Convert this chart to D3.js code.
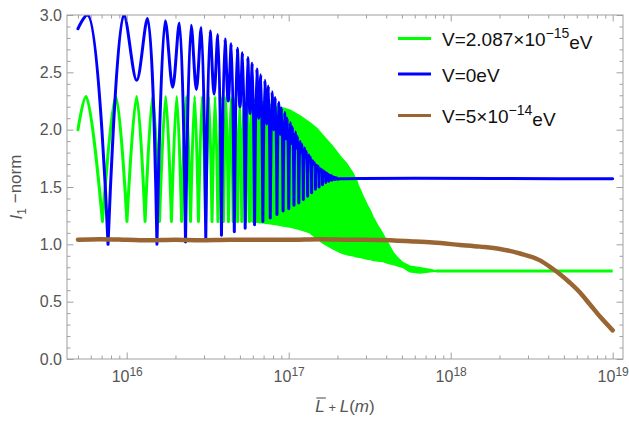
<!DOCTYPE html>
<html>
<head>
<meta charset="utf-8">
<script src="https://cdn.jsdelivr.net/npm/d3@7"></script>
<style>
  body { margin: 0; background: #fff; }
  svg { display: block; font-family: "Liberation Sans", Arial, sans-serif; }
</style>
</head>
<body>
<svg id="chart" width="629" height="421"></svg>
<script>
// Distances (L̄+L) are given in units of 1e16 m; values are the I1-norm.
const UNIT = 1e16;

// V = 0 eV : deep minima of the oscillation
const blueTroughL = [0.767, 1.537, 2.307, 3.077, 3.847, 4.617, 5.387, 6.157, 6.927, 7.697,
  8.467, 9.237, 10.007, 10.777, 11.547, 12.317, 13.087, 13.857, 14.627, 15.397,
  16.167, 16.937, 17.707, 18.477, 19.247, 20.017];
const blueTroughV = [1.00, 1.00, 1.02, 1.05, 1.08, 1.11, 1.14, 1.17, 1.20, 1.23,
  1.26, 1.29, 1.31, 1.34, 1.36, 1.39, 1.42, 1.45, 1.48, 1.50,
  1.52, 1.54, 1.55, 1.56, 1.565, 1.568];
// V = 0 eV : maxima and shallow minima between the deep minima, then the plateau
const blueCrestL = [0.5, 0.5745,
  0.9595, 1.152, 1.3445,  1.7295, 1.922, 2.1145,  2.4995, 2.692, 2.8845,
  3.2695, 3.462, 3.6545,  4.0395, 4.232, 4.4245,  4.8095, 5.002, 5.1945,
  5.5795, 5.772, 5.9645,  6.3495, 6.542, 6.7345,  7.1195, 7.312, 7.5045,
  7.8895, 8.082, 8.2745,  8.66, 8.852, 9.045,  9.43, 9.622, 9.815,
  10.2, 10.392, 10.585,  10.97, 11.162, 11.355,  11.74, 11.932, 12.125,
  12.51, 12.702, 12.895,  13.28, 13.472, 13.665,  14.05, 14.242, 14.435,
  14.82, 15.012, 15.205,  15.59, 15.782, 15.975,  16.36, 16.552, 16.745,
  17.13, 17.322, 17.515,  17.90, 18.092, 18.285,  18.67, 18.862, 19.055,
  19.44, 19.632, 19.825,  20.6, 1000];
const blueCrestV = [2.88, 3.00,
  3.00, 2.43, 2.97,  2.95, 2.37, 2.93,  2.91, 2.35, 2.89,
  2.86, 2.31, 2.83,  2.79, 2.25, 2.75,  2.71, 2.20, 2.67,
  2.63, 2.14, 2.58,  2.53, 2.10, 2.48,  2.43, 2.05, 2.38,
  2.33, 2.00, 2.28,  2.24, 1.96, 2.19,  2.15, 1.92, 2.10,
  2.06, 1.88, 2.02,  1.98, 1.84, 1.94,  1.90, 1.80, 1.87,
  1.84, 1.76, 1.81,  1.78, 1.73, 1.76,  1.73, 1.70, 1.71,
  1.69, 1.67, 1.68,  1.66, 1.645, 1.65,  1.64, 1.63, 1.63,
  1.62, 1.61, 1.61,  1.60, 1.595, 1.60,  1.59, 1.585, 1.585,
  1.58, 1.578, 1.578,  1.571, 1.571];

// V = 2.087e-15 eV : resolved oscillation at short distance
const greenTroughL = [0.7085, 1.0035, 1.2985, 1.5935, 1.8885, 2.1835, 2.4785, 2.7735, 3.0685, 3.3635,
  3.6585, 3.9535, 4.2485, 4.5435, 4.8385, 5.1335, 5.4285, 5.7235, 6.0185];
const greenTroughV = [1.20, 1.20, 1.20, 1.20, 1.20, 1.20, 1.20, 1.20, 1.20, 1.20,
  1.20, 1.20, 1.20, 1.20, 1.20, 1.20, 1.20, 1.20, 1.20];
const greenCrestL = [0.5, 0.561, 0.856, 1.151, 1.446, 1.741, 2.036, 2.331, 2.626, 2.921,
  3.216, 3.511, 3.806, 4.101, 4.396, 4.691, 4.986, 5.281, 5.576, 5.871];
const greenCrestV = [2.00, 2.29, 2.29, 2.29, 2.29, 2.29, 2.29, 2.29, 2.29, 2.29,
  2.29, 2.29, 2.29, 2.29, 2.28, 2.28, 2.27, 2.27, 2.26, 2.26];
// V = 2.087e-15 eV : envelope of the unresolved fast oscillation
const greenBandL = [5.94, 6.65, 7.67, 8.47, 9.22, 10.19, 11.74, 13.54, 14.95, 16.28,
  16.75, 18.77, 20.74, 21.64, 22.90, 24.94, 26.40, 26.78, 28.75, 30.87,
  31.76, 33.14, 35.58, 38.20, 41.02, 44.05, 45.32, 47.29, 50.77, 56.09,
  64.66, 74.5, 81.16];
const greenBandHi = [2.27, 2.25, 2.22, 2.20, 2.19, 2.17, 2.12, 2.06, 2.01, 1.95,
  1.93, 1.85, 1.77, 1.74, 1.70, 1.62, 1.55, 1.52, 1.42, 1.33,
  1.30, 1.24, 1.16, 1.09, 1.01, 0.93, 0.91, 0.88, 0.84, 0.81,
  0.795, 0.78, 0.77];
const greenBandLo = [1.20, 1.19, 1.18, 1.17, 1.16, 1.15, 1.13, 1.10, 1.05, 1.01,
  1.00, 0.96, 0.93, 0.92, 0.91, 0.90, 0.89, 0.89, 0.88, 0.87,
  0.87, 0.86, 0.855, 0.85, 0.835, 0.825, 0.82, 0.81, 0.80, 0.76,
  0.75, 0.76, 0.765];
const greenTailL = [81.16, 1000];
const greenTailV = [0.767, 0.767];

// V = 5e-14 eV
const brownL = [0.5, 0.684, 1.0, 1.393, 2.0, 2.835, 4.34, 6.65, 10, 15.6,
  23.9, 36.6, 58.5, 77.8, 114.1, 151.7, 201.5, 267.8, 355.8, 428,
  472.9, 545, 628.3, 724.3, 834.7, 1000];
const brownV = [1.04, 1.045, 1.04, 1.035, 1.04, 1.035, 1.04, 1.04, 1.04, 1.045,
  1.04, 1.038, 1.025, 1.015, 0.995, 0.98, 0.96, 0.92, 0.86, 0.785,
  0.74, 0.665, 0.58, 0.475, 0.37, 0.25];

// Axis ticks and legend entries
const xMajorTicks = [1e16, 1e17, 1e18, 1e19];
const yMajorTicks = [0, 0.5, 1.0, 1.5, 2.0, 2.5, 3.0];
const legendItems = [
  { color: "#00ff00", pre: "V=2.087×10", sup: "−15", post: "eV" },
  { color: "#0000ff", pre: "V=0eV", sup: "", post: "" },
  { color: "#996633", pre: "V=5×10", sup: "−14", post: "eV" }
];

// ---------------------------------------------------------------
const svg = d3.select("#chart");
const frame = { left: 67, right: 623, top: 15, bottom: 359 };
const x = d3.scaleLog().domain([4.28e15, 1.158e19]).range([frame.left, frame.right]);
const y = d3.scaleLinear().domain([0, 3]).range([frame.bottom, frame.top]);

const FRAME_COL = "#a0a0a0";
const LABEL_COL = "#555";

svg.append("defs").append("clipPath").attr("id", "plot")
  .append("rect").attr("x", frame.left).attr("y", frame.top)
  .attr("width", frame.right - frame.left).attr("height", frame.bottom - frame.top);

// helpers: join extrema into arches that meet in sharp minima
function arches(troughL, troughV, crestL, crestV) {
  const pts = troughL.map((l, i) => ({ l, v: troughV[i], cusp: true }))
    .concat(crestL.map((l, i) => ({ l, v: crestV[i], cusp: false })))
    .sort((a, b) => a.l - b.l);
  const segs = [];
  let cur = [];
  for (const p of pts) {
    cur.push(p);
    if (p.cusp) {
      if (cur.length > 1) segs.push(cur);
      cur = [p];
    }
  }
  if (cur.length > 1) segs.push(cur);
  return segs;
}
const smooth = d3.line().x(p => x(p.l * UNIT)).y(p => y(p.v))
  .curve(d3.curveCatmullRom.alpha(0.5));
const straight = d3.line().x(p => x(p.l * UNIT)).y(p => y(p.v));
const zip = (L, V) => L.map((l, i) => ({ l, v: V[i] }));

const plot = svg.append("g").attr("clip-path", "url(#plot)");

// green series
const GREEN = "#00ff00", BLUE = "#0000ff", BROWN = "#996633";
plot.append("path")
  .attr("d", arches(greenTroughL, greenTroughV, greenCrestL, greenCrestV).map(s => smooth(s)).join(""))
  .attr("fill", "none").attr("stroke", GREEN).attr("stroke-width", 3)
  .attr("stroke-linecap", "round").attr("stroke-linejoin", "round");
const band = greenBandL.map((l, i) => ({ l, hi: greenBandHi[i], lo: greenBandLo[i] }));
plot.append("path")
  .attr("d", d3.area().x(p => x(p.l * UNIT)).y0(p => y(p.lo)).y1(p => y(p.hi))(band))
  .attr("fill", GREEN).attr("stroke", GREEN).attr("stroke-width", 1.5)
  .attr("stroke-linejoin", "round");
plot.append("path")
  .attr("d", straight(zip(greenTailL, greenTailV)))
  .attr("fill", "none").attr("stroke", GREEN).attr("stroke-width", 3);

// blue series
plot.append("path")
  .attr("d", arches(blueTroughL, blueTroughV, blueCrestL, blueCrestV).map(s => smooth(s)).join(""))
  .attr("fill", "none").attr("stroke", BLUE).attr("stroke-width", 3)
  .attr("stroke-linecap", "round").attr("stroke-linejoin", "round");

// brown series
plot.append("path")
  .attr("d", d3.line().x(p => x(p.l * UNIT)).y(p => y(p.v)).curve(d3.curveMonotoneX)(zip(brownL, brownV)))
  .attr("fill", "none").attr("stroke", BROWN).attr("stroke-width", 4.5)
  .attr("stroke-linecap", "round").attr("stroke-linejoin", "round");

// ---------------- frame and ticks ----------------
const isDecade = t => Math.abs(Math.log10(t) - Math.round(Math.log10(t))) < 1e-9;
const xMinorTicks = x.ticks().filter(t => !isDecade(t));
const yMinorTicks = d3.range(0, 31).map(i => i / 10).filter(v => Math.abs(v * 2 - Math.round(v * 2)) > 1e-9);

function styleAxis(g) {
  g.select(".domain").remove();
  g.selectAll(".tick line").attr("stroke", FRAME_COL);
  g.selectAll(".tick text").attr("fill", LABEL_COL);
}

const axes = svg.append("g").attr("font-family", "'Liberation Sans', Arial, sans-serif");

// bottom
axes.append("g").attr("transform", `translate(0,${frame.bottom})`)
  .call(d3.axisBottom(x).tickValues(xMinorTicks).tickSize(-3.5).tickFormat(""))
  .call(styleAxis);
const xb = axes.append("g").attr("transform", `translate(0,${frame.bottom})`)
  .call(d3.axisBottom(x).tickValues(xMajorTicks).tickSize(-6.5).tickPadding(12))
  .call(styleAxis);
xb.selectAll(".tick text").attr("font-size", 16).text(null).each(function (d) {
  const t = d3.select(this);
  t.append("tspan").text("10");
  t.append("tspan").attr("dy", "-0.5em").attr("font-size", 12).text(Math.round(Math.log10(d)));
});
// top
axes.append("g").attr("transform", `translate(0,${frame.top})`)
  .call(d3.axisTop(x).tickValues(xMinorTicks).tickSize(-3.5).tickFormat(""))
  .call(styleAxis);
axes.append("g").attr("transform", `translate(0,${frame.top})`)
  .call(d3.axisTop(x).tickValues(xMajorTicks).tickSize(-6.5).tickFormat(""))
  .call(styleAxis);
// left
axes.append("g").attr("transform", `translate(${frame.left},0)`)
  .call(d3.axisLeft(y).tickValues(yMinorTicks).tickSize(-3.5).tickFormat(""))
  .call(styleAxis);
axes.append("g").attr("transform", `translate(${frame.left},0)`)
  .call(d3.axisLeft(y).tickValues(yMajorTicks).tickSize(-6.5).tickPadding(5).tickFormat(d3.format(".1f")))
  .call(styleAxis)
  .selectAll(".tick text").attr("font-size", 16);
// right
axes.append("g").attr("transform", `translate(${frame.right},0)`)
  .call(d3.axisRight(y).tickValues(yMinorTicks).tickSize(-3.5).tickFormat(""))
  .call(styleAxis);
axes.append("g").attr("transform", `translate(${frame.right},0)`)
  .call(d3.axisRight(y).tickValues(yMajorTicks).tickSize(-6.5).tickFormat(""))
  .call(styleAxis);

svg.append("rect")
  .attr("x", frame.left).attr("y", frame.top)
  .attr("width", frame.right - frame.left).attr("height", frame.bottom - frame.top)
  .attr("fill", "none").attr("stroke", FRAME_COL).attr("stroke-width", 1);

// ---------------- axis titles ----------------
const yTitle = svg.append("text")
  .attr("transform", `translate(22,${(frame.top + frame.bottom) / 2}) rotate(-90)`)
  .attr("text-anchor", "middle").attr("font-size", 17).attr("fill", LABEL_COL);
yTitle.append("tspan").attr("font-style", "italic").text("I");
yTitle.append("tspan").attr("font-size", 12).attr("dy", "0.3em").text("1");
yTitle.append("tspan").attr("dy", "-0.25em").text(" −norm");

const xTitle = svg.append("text")
  .attr("x", (frame.left + frame.right) / 2).attr("y", 412)
  .attr("text-anchor", "middle").attr("font-size", 17).attr("fill", LABEL_COL);
xTitle.append("tspan").attr("font-style", "italic").text("L");
xTitle.append("tspan").text(" + ").attr("font-size", 13);
xTitle.append("tspan").attr("font-style", "italic").text("L");
xTitle.append("tspan").text("(");
xTitle.append("tspan").attr("font-style", "italic").text("m");
xTitle.append("tspan").text(")");
const ext = xTitle.node().getExtentOfChar(0);
svg.append("line")
  .attr("x1", ext.x + 1).attr("x2", ext.x + ext.width + 1)
  .attr("y1", ext.y + 1).attr("y2", ext.y + 1)
  .attr("stroke", LABEL_COL).attr("stroke-width", 1.1);

// ---------------- legend ----------------
const legendRows = [38.5, 74, 115.5];
const legend = svg.append("g");
legendItems.forEach((item, i) => {
  const cy = legendRows[i];
  legend.append("line").attr("x1", 398).attr("x2", 431).attr("y1", cy).attr("y2", cy)
    .attr("stroke", item.color).attr("stroke-width", 3);
  const t = legend.append("text").attr("x", 442).attr("y", cy + 7.5)
    .attr("font-size", 19).attr("fill", "#111");
  t.append("tspan").text(item.pre);
  if (item.sup) {
    t.append("tspan").attr("dy", "-0.55em").attr("font-size", 14).text(item.sup);
    t.append("tspan").attr("dy", "0.55em").text(item.post);
  }
});
</script>
</body>
</html>
